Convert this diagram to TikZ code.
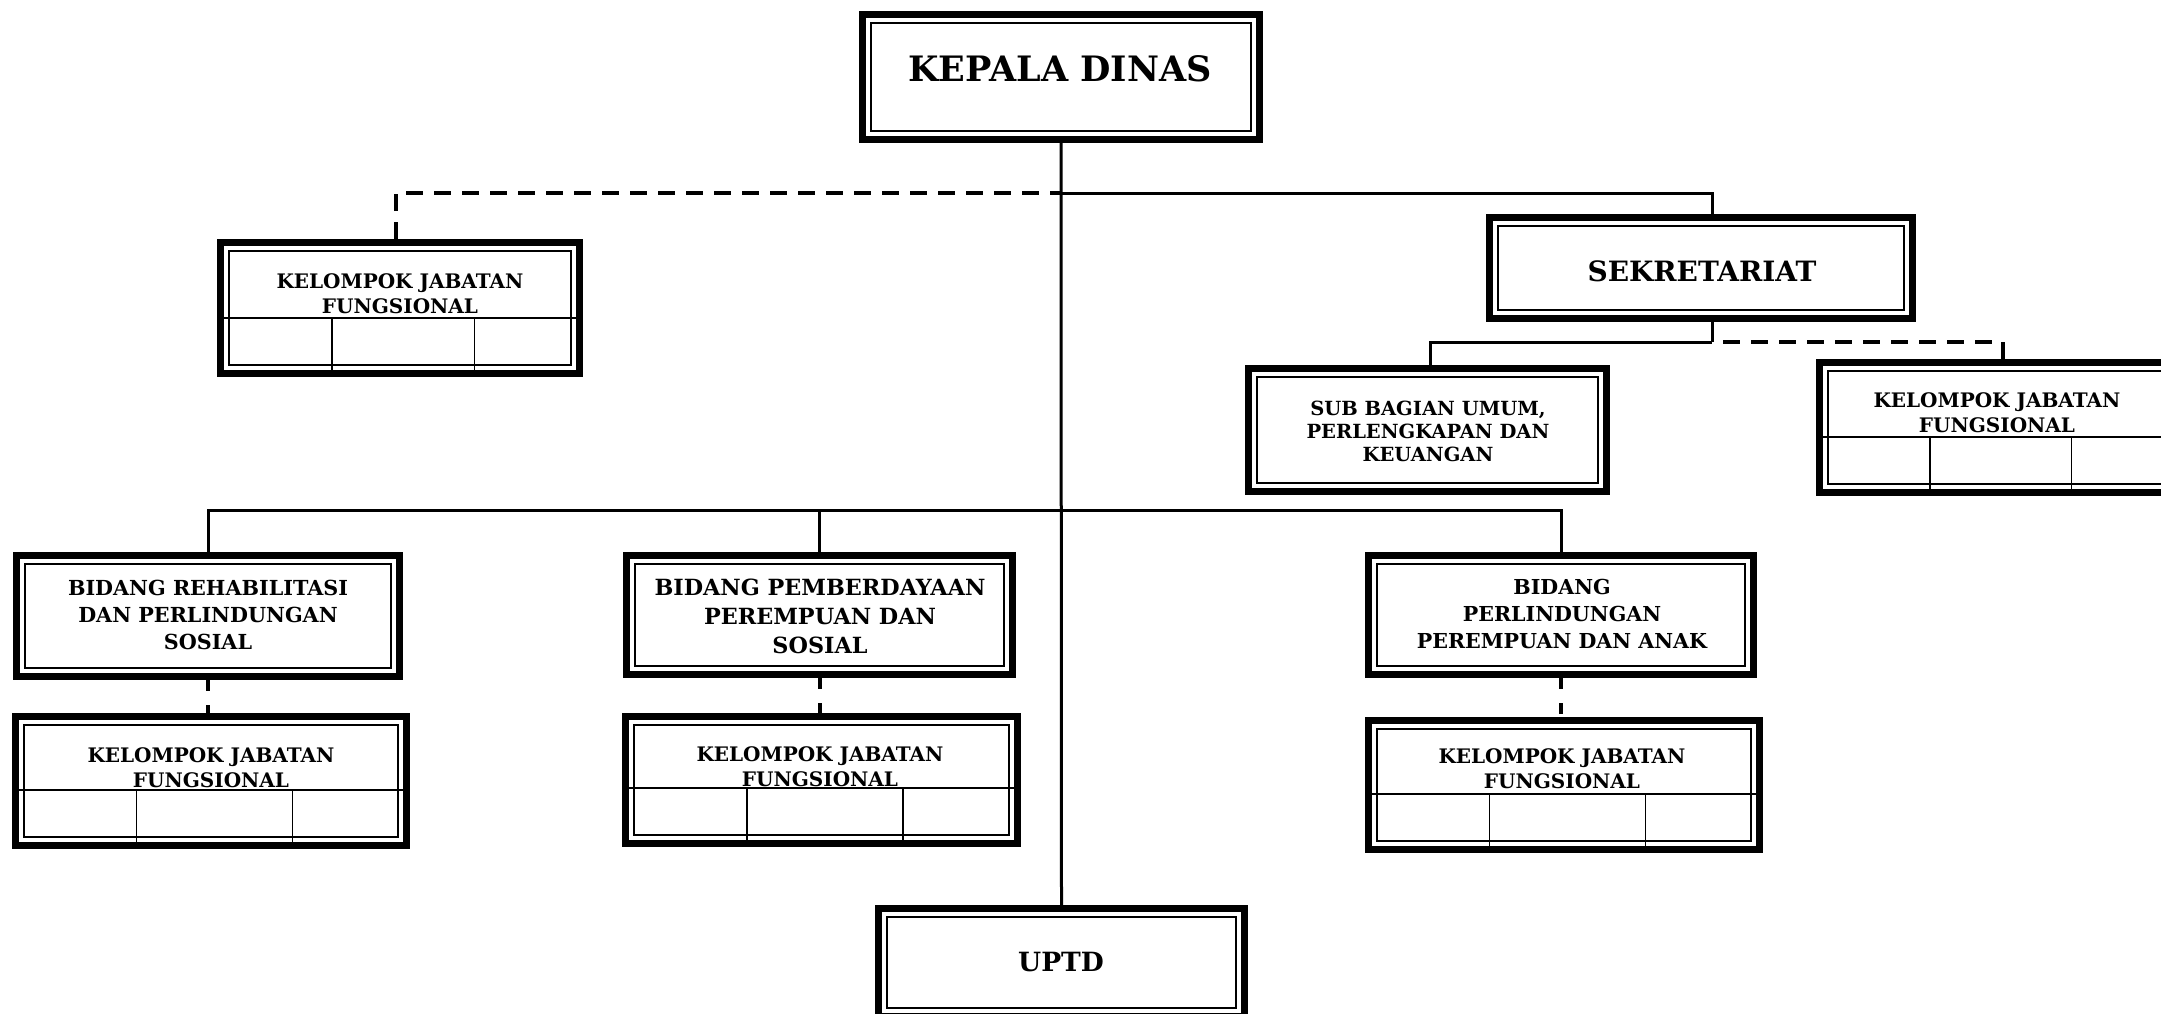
\documentclass[tikz,border=0pt]{standalone}
\usepackage{fontspec}
\setmainfont{DejaVu Serif}
\usetikzlibrary{calc,backgrounds}
\tikzset{
  x=1pt, y=-1pt,
  frame/.style={draw, line width=7pt, inner sep=0pt, fill=white,
    path picture={
      \draw[line width=2pt]
        ([xshift=8.5pt,yshift=-8.5pt]path picture bounding box.north west)
        rectangle ([xshift=-8.5pt,yshift=8.5pt]path picture bounding box.south east);
    }},
  kjfbox/.style={draw, line width=7pt, inner sep=0pt, fill=white,
    path picture={
      \draw[line width=2pt]
        ([xshift=8.5pt,yshift=-8.5pt]path picture bounding box.north west)
        rectangle ([xshift=-8.5pt,yshift=8.5pt]path picture bounding box.south east);
      \draw[line width=1.5pt]
        ([yshift=55.5pt]path picture bounding box.south west) -- ([yshift=55.5pt]path picture bounding box.south east);
      \draw[line width=1.5pt]
        ($(path picture bounding box.south west)!0.31!(path picture bounding box.south east)$) -- ++(0,-55.5);
      \draw[line width=1.5pt]
        ($(path picture bounding box.south west)!0.708!(path picture bounding box.south east)$) -- ++(0,-55.5);
    }},
  conn/.style={line width=3pt},
  dashl/.style={line width=4pt, dash pattern=on 17pt off 11pt},
  dashs/.style={line width=4pt, dash pattern=on 11pt off 14pt},
  txt/.style={inner sep=0pt, align=center, anchor=base},
  ftkd/.style={font=\bfseries\fontsize{35}{40}\selectfont},
  ftsek/.style={font=\bfseries\fontsize{28}{33}\selectfont},
  ftup/.style={font=\bfseries\fontsize{26.5}{31}\selectfont},
  ftsub/.style={font=\bfseries\fontsize{19.5}{23}\selectfont},
  ftbida/.style={font=\bfseries\fontsize{20.7}{27}\selectfont},
  ftbidb/.style={font=\bfseries\fontsize{22.3}{29}\selectfont},
  ftbidc/.style={font=\bfseries\fontsize{20.6}{27}\selectfont},
  ftkjf/.style={font=\bfseries\fontsize{20}{25}\selectfont},
}
\begin{document}
\begin{tikzpicture}
\useasboundingbox (0,0) rectangle (2161,1014);
\clip (0,0) rectangle (2161,1014);

% junction rows
\coordinate (top) at (0,193);
\coordinate (sekbus) at (0,342);
\coordinate (mid) at (0,510);

% boxes
\node[frame, minimum width=397, minimum height=125] (kd) at (1061,77) {};
\node[kjfbox, minimum width=359, minimum height=131] (kjfA) at (400,308) {};
\node[frame, minimum width=423, minimum height=101] (sek) at (1701,268) {};
\node[frame, minimum width=358, minimum height=123] (sub) at (1427.5,430) {};
\node[kjfbox, minimum width=356, minimum height=130] (kjfR) at (1997.5,427.5) {};
\node[frame, minimum width=383, minimum height=121] (bid1) at (208,616) {};
\node[frame, minimum width=386, minimum height=119] (bid2) at (819.5,615) {};
\node[frame, minimum width=385, minimum height=119] (bid3) at (1561,615) {};
\node[kjfbox, minimum width=391, minimum height=129] (kjf1) at (211,781) {};
\node[kjfbox, minimum width=392, minimum height=127] (kjf2) at (821.5,780) {};
\node[kjfbox, minimum width=391, minimum height=129] (kjf3) at (1564,785) {};
\node[frame, minimum width=366, minimum height=108] (uptd) at (1061.5,962.5) {};

% connectors (behind the boxes)
\coordinate (sekc) at ([xshift=11pt]sek.south);
\coordinate (sekn) at ([xshift=11pt]sek.north);
\coordinate (kjfAn) at ([xshift=-4pt]kjfA.north);
\coordinate (kjfRn) at ([xshift=5pt]kjfR.north);
\coordinate (subn) at ([xshift=3pt]sub.north);
\begin{pgfonlayer}{background}
\fill[white] (0,0) rectangle (2161,1014);
\draw[conn] (kd.south) -- (uptd.north);
\draw[conn] (sekn) |- (kd.south |- top);
\draw[dashl] (kjfAn) |- (kd.south |- top);
\draw[conn] (sekc) -- (sekc |- sekbus);
\draw[conn] (subn) |- (sekc |- sekbus);
\draw[dashl] (kjfRn) |- (sekc |- sekbus);
\draw[conn] (bid1.north) -- (bid1.north |- mid) -- (bid3.north |- mid) -- (bid3.north);
\draw[conn] (bid2.north) -- (bid2.north |- mid);
\draw[dashs] (bid1.south) -- (bid1.south |- kjf1.north);
\draw[dashs] (bid2.south) -- (bid2.south |- kjf2.north);
\draw[dashs] (bid3.south) -- (bid3.south |- kjf3.north);
\end{pgfonlayer}

% texts (anchor = baseline of the last line)
\node[txt, ftkd] (kdt) at (1060,82) {KEPALA DINAS};
\node[txt, ftsek] (sekt) at (1702,281) {SEKRETARIAT};
\node[txt, ftup] (uptdt) at (1061,971) {UPTD};
\node[txt, ftsub] (subt) at (1428,461) {SUB BAGIAN UMUM,\\PERLENGKAPAN DAN\\KEUANGAN};
\node[txt, ftbida] (bid1t) at (208,649) {BIDANG REHABILITASI\\DAN PERLINDUNGAN\\SOSIAL};
\node[txt, ftbidb] (bid2t) at (820,653) {BIDANG PEMBERDAYAAN\\PEREMPUAN DAN\\SOSIAL};
\node[txt, ftbidc] (bid3t) at (1562,648) {BIDANG\\PERLINDUNGAN\\PEREMPUAN DAN ANAK};
\node[txt, ftkjf] (kjfAt) at (400,313) {KELOMPOK JABATAN\\FUNGSIONAL};
\node[txt, ftkjf] (kjf1t) at (211,787) {KELOMPOK JABATAN\\FUNGSIONAL};
\node[txt, ftkjf] (kjf2t) at (820,786) {KELOMPOK JABATAN\\FUNGSIONAL};
\node[txt, ftkjf] (kjf3t) at (1562,788) {KELOMPOK JABATAN\\FUNGSIONAL};
\node[txt, ftkjf] (kjfRt) at (1997,432) {KELOMPOK JABATAN\\FUNGSIONAL};
\end{tikzpicture}
\end{document}
